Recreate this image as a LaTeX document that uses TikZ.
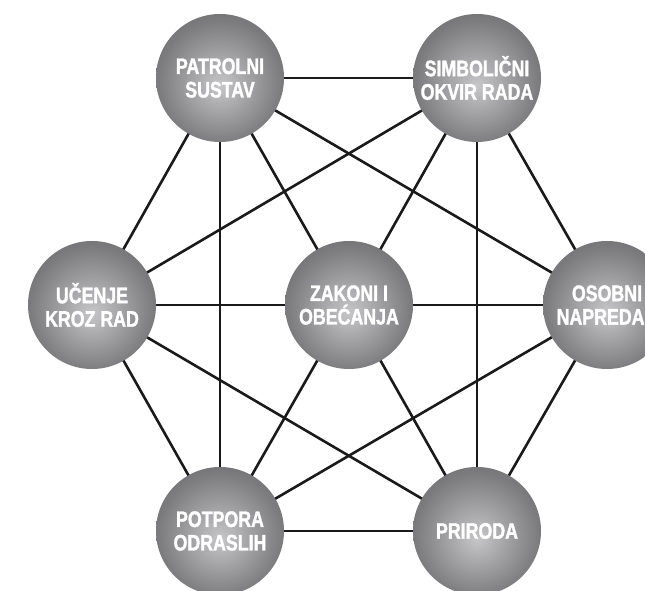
\documentclass[tikz,border=0pt]{standalone}
\usepackage{fontspec}
\setmainfont{Liberation Sans}[FakeStretch=0.79, BoldFeatures={FakeBold=1.5}]
\definecolor{ballin}{HTML}{C6C6C8}
\definecolor{ballmid}{HTML}{7C7C7E}
\definecolor{ballout}{HTML}{454547}
\definecolor{edgecol}{HTML}{1A1A1A}
\pgfdeclareradialshading{ballshade}{\pgfpoint{0bp}{-3bp}}{color(0bp)=(ballin); color(24bp)=(ballmid); color(50bp)=(ballout)}
\tikzset{
  ball/.style={circle, minimum size=128pt, inner sep=0pt, shading=ballshade,
    text=white, align=center, font=\bfseries\fontsize{22.5}{23.5}\selectfont},
  link/.style={draw=edgecol, line width=2.6pt}
}
\begin{document}
\begin{tikzpicture}[x=1pt,y=1pt]
\useasboundingbox (0,0) rectangle (645,591);
\fill[white] (0,0) rectangle (645,591);
\coordinate (cP) at (220,513);
\coordinate (cS) at (477,513);
\coordinate (cU) at (92,286);
\coordinate (cZ) at (349,286);
\coordinate (cO) at (607,286);
\coordinate (cA) at (220,60);
\coordinate (cR) at (477,60);
\foreach \a/\b in {P/S,P/U,P/A,P/Z,P/O,S/U,S/Z,S/R,S/O,U/Z,Z/O,U/A,U/R,Z/A,Z/R,O/A,O/R,A/R}
  \draw[link] (c\a) -- (c\b);
\node[ball] (P) at (cP) {PATROLNI\\SUSTAV};
\node[ball] (S) at (cS) {SIMBOLIČNI\\OKVIR RADA};
\node[ball] (U) at (cU) {UČENJE\\KROZ RAD};
\node[ball] (Z) at (cZ) {ZAKONI I\\OBEĆANJA};
\node[ball] (O) at (cO) {OSOBNI\\NAPREDAK};
\node[ball] (A) at (cA) {POTPORA\\ODRASLIH};
\node[ball] (R) at (cR) {PRIRODA};
\end{tikzpicture}
\end{document}
